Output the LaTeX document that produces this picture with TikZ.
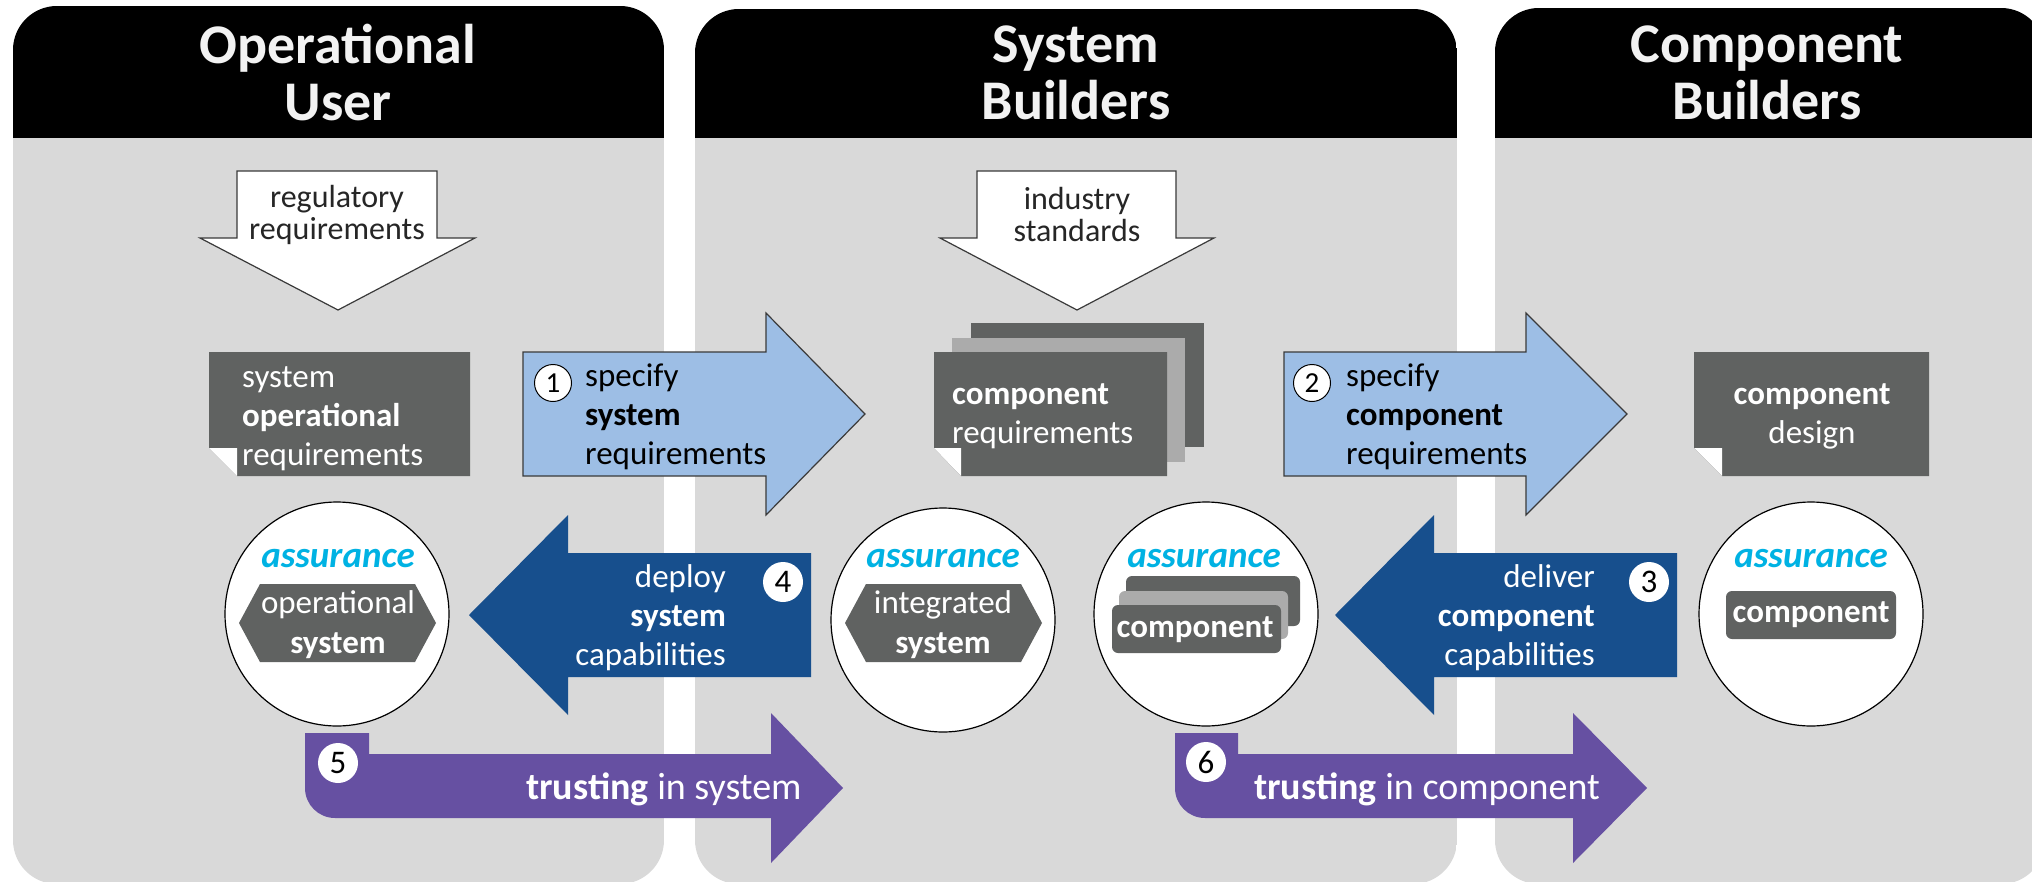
\documentclass[tikz,border=0pt]{standalone}
\usepackage{fontspec}
\setmainfont{Carlito}
\definecolor{panelgrey}{HTML}{D9D9D9}
\definecolor{docgrey}{HTML}{606261}
\definecolor{stackgrey}{HTML}{ABABAB}
\definecolor{lblue}{HTML}{9DBEE5}
\definecolor{dblue}{HTML}{174F8D}
\definecolor{purp}{HTML}{6650A2}
\definecolor{cyanA}{HTML}{00B2E3}
\definecolor{hdrwhite}{HTML}{F2F2F2}
\definecolor{outl}{HTML}{3A3A3A}
\definecolor{darktxt}{HTML}{262626}
\tikzset{
  hdr/.style={text=hdrwhite, align=center, inner sep=0pt, font=\fontsize{56}{57}\selectfont\bfseries},
  downarr/.style={fill=white, draw=outl, line width=1.2pt},
  downtxt/.style={text=darktxt, align=center, inner sep=0pt, font=\fontsize{32}{32}\selectfont},
  docshape/.style={fill=docgrey},
  doctxt/.style={text=white, inner sep=0pt, font=\fontsize{33}{39}\selectfont},
  lbarrow/.style={fill=lblue, draw=outl, line width=1.2pt},
  dbarrow/.style={fill=dblue},
  parrow/.style={fill=purp},
  blacktxt/.style={text=black, inner sep=0pt, align=left, font=\fontsize{33}{39}\selectfont},
  whitetxt/.style={text=white, inner sep=0pt, font=\fontsize{33}{39}\selectfont},
  trusttxt/.style={text=white, inner sep=0pt, font=\fontsize{38}{40}\selectfont},
  numthin/.style={circle, draw=black, line width=1pt, fill=white, minimum size=37pt, inner sep=0pt, font=\fontsize{29}{30}\selectfont},
  numfill/.style={circle, fill=white, minimum size=40pt, inner sep=0pt, font=\fontsize{33}{34}\selectfont},
  acirc/.style={fill=white, draw=black, line width=1.2pt},
  assur/.style={text=cyanA, inner sep=0pt, font=\fontsize{37}{40}\selectfont\bfseries\itshape},
  hextxt/.style={text=white, align=center, inner sep=0pt, font=\fontsize{33}{40}\selectfont},
  compbox/.style={fill=docgrey, rounded corners=6pt},
}
\begin{document}
\begin{tikzpicture}[x=1pt,y=-1pt]
\useasboundingbox (0,0) rectangle (2032,881);
\fill[white] (0,0) rectangle (2032,881);
% panels
\begin{scope}
\clip[rounded corners=44pt] (13,6) rectangle (664,884);
\fill[panelgrey] (13,6) rectangle (664,884);
\fill[black] (13,6) rectangle (664,138);
\end{scope}
\begin{scope}
\clip[rounded corners=44pt] (695,9) rectangle (1457,884);
\fill[panelgrey] (695,9) rectangle (1457,884);
\fill[black] (695,9) rectangle (1457,138);
\end{scope}
\begin{scope}
\clip[rounded corners=44pt] (1495,8) rectangle (2045,884);
\fill[panelgrey] (1495,8) rectangle (2045,884);
\fill[black] (1495,8) rectangle (2045,138);
\end{scope}
\node[hdr] (t1) at (338,73) {Operational\\User};
\node[hdr] (t2) at (1076,73) {System\\Builders};
\node[hdr] (t3) at (1767,73) {Component\\Builders};
% down arrows
\draw[downarr] (237,171) -- (437,171) -- (437,238) -- (475,238) -- (338,310) -- (200,238) -- (237,238) -- cycle;
\node[downtxt] (reg) at (337,215) {regulatory\\requirements};
\draw[downarr] (977,171) -- (1176,171) -- (1176,238) -- (1214,238) -- (1077,310) -- (940,238) -- (977,238) -- cycle;
\node[downtxt] (ind) at (1077,215) {industry\\standards};
% documents
\fill[docshape] (209,352) -- (470,352) -- (470,476) -- (237,476) -- (209,448) -- cycle;
\fill[white] (209,448) -- (237,448) -- (237,476) -- cycle;
\node[doctxt, anchor=west, align=left] (d1) at (242,419) {system\\\textbf{operational}\\requirements};
\fill[docshape] (971,323) rectangle (1204,447);
\fill[stackgrey] (952,338) rectangle (1185,462);
\fill[docshape] (934,352) -- (1167,352) -- (1167,476) -- (961,476) -- (934,448) -- cycle;
\fill[white] (934,448) -- (961,448) -- (961,476) -- cycle;
\node[doctxt, anchor=west, align=left] (d2) at (952,416) {\textbf{component}\\requirements};
\fill[docshape] (1694,352) -- (1929,352) -- (1929,476) -- (1722,476) -- (1694,448) -- cycle;
\fill[white] (1694,448) -- (1722,448) -- (1722,476) -- cycle;
\node[doctxt, align=center] (d3) at (1812,416) {\textbf{component}\\design};
% light blue arrows
\draw[lbarrow] (523,352) -- (766,352) -- (766,313) -- (865,414) -- (766,515) -- (766,476) -- (523,476) -- cycle;
\node[numthin] (n1) at (553,383) {1};
\node[blacktxt, anchor=west] (s1) at (585,417) {specify\\\textbf{system}\\requirements};
\draw[lbarrow] (1284,352) -- (1526,352) -- (1526,313) -- (1627,414) -- (1526,515) -- (1526,476) -- (1284,476) -- cycle;
\node[numthin] (n2) at (1312,383) {2};
\node[blacktxt, anchor=west] (s2) at (1346,417) {specify\\\textbf{component}\\requirements};
% dark blue arrows
\fill[dbarrow] (811,553) -- (568,553) -- (568,515) -- (469,615) -- (568,715) -- (568,677) -- (811,677) -- cycle;
\node[whitetxt, anchor=east, align=right] (s4) at (726,618) {deploy\\\textbf{system}\\capabilities};
\node[numfill] (n4) at (783,582) {4};
\fill[dbarrow] (1677,553) -- (1434,553) -- (1434,515) -- (1335,615) -- (1434,715) -- (1434,677) -- (1677,677) -- cycle;
\node[whitetxt, anchor=east, align=right] (s3) at (1595,618) {deliver\\\textbf{component}\\capabilities};
\node[numfill] (n3) at (1649,582) {3};
% purple arrows
\fill[parrow] (305,733) -- (369,733) -- (369,754) -- (771,754) -- (771,713) -- (843,788) -- (771,863) -- (771,818) -- (335,818) .. controls (318.4,818) and (305,804.6) .. (305,788) -- cycle;
\node[numfill] (n5) at (338,763) {5};
\node[trusttxt, anchor=west] (tr5) at (526,789) {\textbf{trusting} in system};
\fill[parrow] (1175,733) -- (1238,733) -- (1238,754) -- (1573,754) -- (1573,713) -- (1647,788) -- (1573,863) -- (1573,818) -- (1205,818) .. controls (1188.4,818) and (1175,804.6) .. (1175,788) -- cycle;
\node[numfill] (n6) at (1206,762) {6};
\node[trusttxt, anchor=west] (tr6) at (1254,789) {\textbf{trusting} in component};
% assurance circles
\filldraw[acirc] (337,614) circle[radius=112];
\node[assur] (a1) at (338,559) {assurance};
\fill[docgrey] (239,623) -- (260,584) -- (415,584) -- (436,623) -- (415,662) -- (260,662) -- cycle;
\node[hextxt] (h1) at (338,625) {operational\\\textbf{system}};
\filldraw[acirc] (943,620) circle[radius=112];
\node[assur] (a2) at (943,559) {assurance};
\fill[docgrey] (845,623) -- (866,584) -- (1021,584) -- (1042,623) -- (1021,662) -- (866,662) -- cycle;
\node[hextxt] (h2) at (943,625) {integrated\\\textbf{system}};
\filldraw[acirc] (1206,614) circle[radius=112];
\node[assur] (a3) at (1204,559) {assurance};
\fill[compbox] (1126,576) rectangle (1300,626);
\fill[stackgrey, rounded corners=6pt] (1119,591) rectangle (1288,639);
\fill[compbox] (1112,605) rectangle (1281,653);
\node[hextxt] (k3) at (1195,630) {\textbf{component}};
\filldraw[acirc] (1811,614) circle[radius=112];
\node[assur] (a4) at (1811,559) {assurance};
\fill[compbox] (1726,591) rectangle (1896,639);
\node[hextxt] (k4) at (1811,615) {\textbf{component}};
\end{tikzpicture}
\end{document}
